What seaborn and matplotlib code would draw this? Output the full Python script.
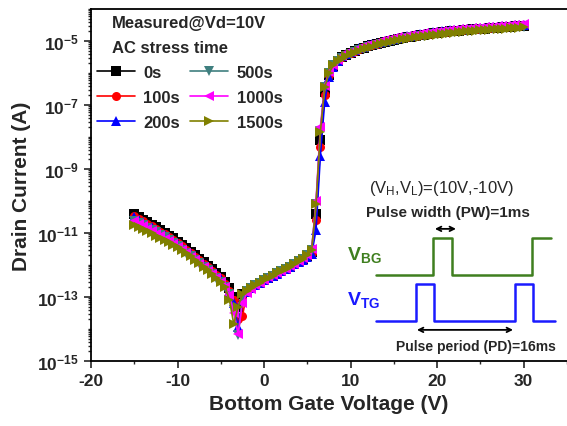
import numpy as np
import pandas as pd
import matplotlib
matplotlib.use("Agg")
import matplotlib.pyplot as plt
import seaborn as sns
from matplotlib.ticker import FixedLocator, FixedFormatter, LogLocator, NullFormatter

# ---------------- data ----------------
vg = [-15.0, -14.5, -14.0, -13.5, -13.0, -12.5, -12.0, -11.5, -11.0, -10.5,
      -10.0, -9.5, -9.0, -8.5, -8.0, -7.5, -7.0, -6.5, -6.0, -5.5,
      -5.0, -4.5, -4.0, -3.5, -3.0, -2.5, -2.0, -1.5, -1.0, -0.5,
      0.0, 0.5, 1.0, 1.5, 2.0, 2.5, 3.0, 3.5, 4.0, 4.5,
      5.0, 5.5, 6.0, 6.5, 7.0, 7.5, 8.0, 8.5, 9.0, 9.5,
      10.0, 10.5, 11.0, 11.5, 12.0, 12.5, 13.0, 13.5, 14.0, 14.5,
      15.0, 15.5, 16.0, 16.5, 17.0, 17.5, 18.0, 18.5, 19.0, 19.5,
      20.0, 20.5, 21.0, 21.5, 22.0, 22.5, 23.0, 23.5, 24.0, 24.5,
      25.0, 25.5, 26.0, 26.5, 27.0, 27.5, 28.0, 28.5, 29.0, 29.5, 30.0]

# log10 of drain current (A)
logI_0s = [-10.42, -10.50, -10.58, -10.66, -10.74, -10.82, -10.91, -10.99, -11.08, -11.17,
           -11.27, -11.37, -11.47, -11.58, -11.69, -11.80, -11.91, -12.02, -12.13, -12.25,
           -12.37, -12.52, -12.72, -13.00, -13.30,
           -12.90, -12.80, -12.71, -12.63, -12.55, -12.47, -12.40, -12.33, -12.26, -12.19,
           -12.12, -12.05, -11.97, -11.89, -11.81, -11.72, -11.58,
           -10.40, -8.10, -6.60, -6.05, -5.78, -5.62,
           -5.50, -5.43, -5.37, -5.31, -5.26, -5.21, -5.17, -5.13, -5.09, -5.05, -5.02, -4.99,
           -4.96, -4.93, -4.90, -4.88, -4.86, -4.84, -4.82, -4.80, -4.78, -4.76, -4.75, -4.73,
           -4.72, -4.70, -4.69, -4.68, -4.66, -4.65, -4.64, -4.63, -4.62, -4.61, -4.60, -4.59,
           -4.58, -4.57, -4.56, -4.55, -4.54, -4.53, -4.52]
logI_100s = [-10.47, -10.55, -10.63, -10.71, -10.79, -10.87, -10.96, -11.04, -11.13, -11.22,
             -11.32, -11.42, -11.52, -11.63, -11.74, -11.85, -11.96, -12.07, -12.18, -12.30,
             -12.42, -12.58, -12.80, -13.10, -13.70,
             -13.60, -12.85, -12.73, -12.64, -12.56, -12.48, -12.41, -12.34, -12.27, -12.20,
             -12.13, -12.06, -11.98, -11.90, -11.82, -11.74, -11.62,
             -10.60, -8.30, -6.70, -6.07, -5.78, -5.62,
             -5.49, -5.42, -5.36, -5.30, -5.25, -5.20, -5.16, -5.12, -5.08, -5.04, -5.01, -4.98,
             -4.95, -4.92, -4.89, -4.87, -4.85, -4.83, -4.81, -4.79, -4.77, -4.75, -4.74, -4.72,
             -4.71, -4.69, -4.68, -4.67, -4.65, -4.64, -4.63, -4.62, -4.61, -4.60, -4.59, -4.58,
             -4.57, -4.56, -4.55, -4.54, -4.53, -4.52, -4.51]
logI_200s = [-10.50, -10.58, -10.66, -10.74, -10.82, -10.90, -10.99, -11.07, -11.16, -11.25,
             -11.35, -11.45, -11.55, -11.66, -11.77, -11.88, -11.99, -12.10, -12.21, -12.33,
             -12.45, -12.62, -12.85, -13.20, -13.95,
             -13.10, -12.84, -12.73, -12.64, -12.56, -12.48, -12.41, -12.34, -12.27, -12.20,
             -12.13, -12.06, -11.98, -11.90, -11.83, -11.76, -11.66,
             -10.90, -8.60, -6.90, -6.12, -5.80, -5.62,
             -5.47, -5.40, -5.34, -5.28, -5.23, -5.18, -5.14, -5.10, -5.06, -5.02, -4.99, -4.96,
             -4.93, -4.90, -4.87, -4.85, -4.83, -4.81, -4.79, -4.77, -4.75, -4.73, -4.72, -4.70,
             -4.69, -4.67, -4.66, -4.65, -4.63, -4.62, -4.61, -4.60, -4.59, -4.58, -4.57, -4.56,
             -4.55, -4.54, -4.53, -4.52, -4.51, -4.50, -4.49]
logI_500s = [-10.62, -10.69, -10.76, -10.83, -10.90, -10.98, -11.06, -11.14, -11.23, -11.32,
             -11.42, -11.52, -11.62, -11.73, -11.84, -11.95, -12.06, -12.17, -12.28, -12.40,
             -12.52, -12.68, -12.92, -13.40, -14.20,
             -13.00, -12.82, -12.72, -12.63, -12.55, -12.47, -12.40, -12.33, -12.26, -12.19,
             -12.12, -12.05, -11.97, -11.89, -11.80, -11.70, -11.52,
             -10.10, -7.80, -6.45, -6.00, -5.76, -5.62,
             -5.53, -5.46, -5.40, -5.34, -5.29, -5.24, -5.20, -5.16, -5.12, -5.08, -5.05, -5.02,
             -4.99, -4.96, -4.93, -4.91, -4.89, -4.87, -4.85, -4.83, -4.81, -4.79, -4.78, -4.76,
             -4.75, -4.73, -4.72, -4.71, -4.69, -4.68, -4.67, -4.66, -4.65, -4.64, -4.63, -4.62,
             -4.61, -4.60, -4.59, -4.58, -4.57, -4.56, -4.55]
logI_1000s = [-10.64, -10.72, -10.79, -10.87, -10.94, -11.02, -11.10, -11.18, -11.26, -11.35,
              -11.44, -11.54, -11.64, -11.74, -11.85, -11.96, -12.07, -12.18, -12.29, -12.41,
              -12.53, -12.70, -12.95, -13.50, -14.15,
              -13.20, -12.88, -12.74, -12.64, -12.55, -12.47, -12.39, -12.32, -12.25, -12.18,
              -12.11, -12.04, -11.96, -11.88, -11.79, -11.69, -11.50,
              -10.00, -7.70, -6.40, -5.98, -5.74, -5.60,
              -5.46, -5.39, -5.33, -5.27, -5.22, -5.17, -5.13, -5.09, -5.05, -5.01, -4.98, -4.95,
              -4.92, -4.89, -4.86, -4.84, -4.82, -4.80, -4.78, -4.76, -4.74, -4.72, -4.71, -4.69,
              -4.68, -4.66, -4.65, -4.64, -4.62, -4.61, -4.60, -4.59, -4.58, -4.57, -4.56, -4.55,
              -4.54, -4.53, -4.52, -4.51, -4.50, -4.49, -4.48]
logI_1500s = [-10.74, -10.80, -10.87, -10.94, -11.01, -11.08, -11.15, -11.22, -11.29, -11.36,
              -11.43, -11.52, -11.62, -11.72, -11.83, -11.94, -12.05, -12.16, -12.28, -12.40,
              -12.52, -12.68, -13.10, -13.85, -13.30,
              -12.92, -12.80, -12.71, -12.63, -12.55, -12.47, -12.40, -12.33, -12.26, -12.19,
              -12.12, -12.05, -11.97, -11.89, -11.80, -11.70, -11.52,
              -10.10, -7.85, -6.45, -6.00, -5.76, -5.62,
              -5.55, -5.48, -5.42, -5.36, -5.31, -5.26, -5.22, -5.18, -5.14, -5.10, -5.07, -5.04,
              -5.01, -4.98, -4.95, -4.93, -4.91, -4.89, -4.87, -4.85, -4.83, -4.81, -4.80, -4.78,
              -4.77, -4.75, -4.74, -4.73, -4.71, -4.70, -4.69, -4.68, -4.67, -4.66, -4.65, -4.64,
              -4.63, -4.62, -4.61, -4.60, -4.59, -4.58, -4.57]

series_labels = ["0s", "100s", "200s", "500s", "1000s", "1500s"]
series_logI = [logI_0s, logI_100s, logI_200s, logI_500s, logI_1000s, logI_1500s]
series_colors = ["#000000", "#ff0000", "#0000ff", "#3f7f7f", "#ff00ff", "#808000"]
series_markers = ["s", "o", "^", "v", "<", ">"]

x_major = [-20, -10, 0, 10, 20, 30]
x_minor = [-15, -5, 5, 15, 25, 35]
y_major_exp = [-15, -13, -11, -9, -7, -5]

# pulse schematic (arbitrary time units / levels)
t_bg = [0, 9.2, 9.2, 12.3, 12.3, 25.2, 25.2, 28.2]
v_bg = [1.24, 1.24, 2.24, 2.24, 1.24, 1.24, 2.24, 2.24]
t_tg = [0, 6.45, 6.45, 9.35, 9.35, 22.4, 22.4, 25.3, 25.3, 28.9]
v_tg = [0, 0, 1, 1, 0, 0, 1, 1, 0, 0]

# ---------------- style ----------------
sns.set_style("ticks")
plt.rcParams["font.family"] = ["Liberation Sans", "DejaVu Sans"]
plt.rcParams["font.weight"] = "bold"
plt.rcParams["mathtext.fontset"] = "custom"
plt.rcParams["mathtext.rm"] = "Liberation Sans"
plt.rcParams["mathtext.bf"] = "Liberation Sans:bold"
plt.rcParams["mathtext.it"] = "Liberation Sans:italic"

for n in range(len(series_logI)):
    assert len(series_logI[n]) == len(vg)

df = pd.DataFrame({
    "Vg": np.concatenate([vg] * len(series_labels)),
    "Id": 10.0 ** np.concatenate(series_logI),
    "time": np.repeat(series_labels, len(vg)),
})

fig = plt.figure(figsize=(5.67, 4.27), dpi=100)
ax = fig.add_axes([91 / 567, 1 - 362 / 427, 476 / 567, 352 / 427])
ax.set_yscale("log")

sns.lineplot(data=df, x="Vg", y="Id", hue="time", style="time",
             hue_order=series_labels, style_order=series_labels,
             palette=dict(zip(series_labels, series_colors)),
             markers=dict(zip(series_labels, series_markers)),
             dashes=False, markersize=6.5, markeredgewidth=0, linewidth=1.2,
             estimator=None, sort=False, legend=False, ax=ax)

ax.set_xlim(-20, 35)
ax.set_ylim(1e-15, 1e-4)

ax.xaxis.set_major_locator(FixedLocator(x_major))
ax.xaxis.set_minor_locator(FixedLocator(x_minor))
ax.set_xticklabels([str(v) for v in x_major])
ax.yaxis.set_major_locator(FixedLocator([10.0 ** e for e in y_major_exp]))
ax.yaxis.set_major_formatter(FixedFormatter([r"$\mathbf{10^{%d}}$" % e for e in y_major_exp]))
ax.yaxis.set_minor_locator(LogLocator(base=10, subs=np.arange(1, 10), numticks=100))
ax.yaxis.set_minor_formatter(NullFormatter())

ax.tick_params(axis="both", which="major", direction="out", length=5, width=1.2,
               labelsize=12.5, pad=4)
ax.tick_params(axis="both", which="minor", direction="out", length=2.5, width=1.0)
for lab in ax.get_xticklabels():
    lab.set_fontweight("bold")

for s in ["left", "bottom", "top"]:
    ax.spines[s].set_linewidth(1.3)
    ax.spines[s].set_color("black")
ax.spines["right"].set_visible(False)

ax.set_xlabel("Bottom Gate Voltage (V)", fontsize=15, fontweight="bold", labelpad=4)
ax.set_ylabel("Drain Current (A)", fontsize=15, fontweight="bold", labelpad=4)

# legend
ax.text(0.044, 0.963, "Measured@Vd=10V", transform=ax.transAxes, fontsize=12,
        fontweight="bold", ha="left", va="center")
ax.text(0.044, 0.892, "AC stress time", transform=ax.transAxes, fontsize=12,
        fontweight="bold", ha="left", va="center")
leg = ax.legend(handles=ax.lines[:6], labels=series_labels, ncol=2, loc="upper left",
                bbox_to_anchor=(0.012, 0.842), frameon=False, handlelength=2.3,
                handletextpad=0.5, columnspacing=0.6, labelspacing=0.6, numpoints=1,
                borderpad=0, borderaxespad=0, prop={"weight": "bold", "size": 12})

# inset pulse schematic
ax2 = fig.add_axes([345 / 567, 1 - 359 / 427, 217 / 567, 185 / 427])
ax2.set_xlim(-5, 30)
ax2.set_ylim(-1, 4)
ax2.axis("off")
ax2.plot(t_bg, v_bg, color="#3f7f1f", lw=1.8)
ax2.plot(t_tg, v_tg, color="#1a1aff", lw=1.8)
ax2.annotate("", xy=(12.9, 2.49), xytext=(9.5, 2.49),
             arrowprops=dict(arrowstyle="<->", lw=1.3, color="black",
                             shrinkA=0, shrinkB=0, mutation_scale=8))
ax2.annotate("", xy=(22.1, -0.24), xytext=(6.6, -0.24),
             arrowprops=dict(arrowstyle="<->", lw=1.3, color="black",
                             shrinkA=0, shrinkB=0, mutation_scale=8))
ax2.text(10.5, 3.62, r"(V$_\mathregular{H}$,V$_\mathregular{L}$)=(10V,-10V)",
         ha="center", va="center", fontsize=12, fontweight="normal")
ax2.text(11.6, 2.95, "Pulse width (PW)=1ms", ha="center", va="center",
         fontsize=11, fontweight="bold")
ax2.text(-4.7, 1.81, r"V$_\mathbf{BG}$", ha="left", va="center",
         fontsize=14, fontweight="bold", color="#3f7f1f")
ax2.text(-4.7, 0.59, r"V$_\mathbf{TG}$", ha="left", va="center",
         fontsize=14, fontweight="bold", color="#1a1aff")
ax2.text(16.1, -0.68, "Pulse period (PD)=16ms", ha="center", va="center",
         fontsize=10, fontweight="bold")

fig.savefig("out.png", dpi=100)
